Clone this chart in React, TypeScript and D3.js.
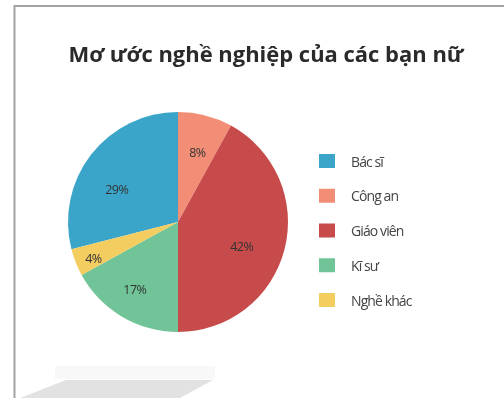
import React from "react";
import * as d3 from "d3";

const title = "Mơ ước nghề nghiệp của các bạn nữ";
const categories = ["Bác sĩ", "Công an", "Giáo viên", "Kĩ sư", "Nghề khác"];
const values = [29, 8, 42, 17, 4];
const colors = ["#3aa5c8", "#f38e76", "#c74b4b", "#70c497", "#f4cd60"];

const W = 504;
const H = 398;
const cx = 178;
const cy = 222;
const R = 110;

// label placement (fraction of radius, angle offset in degrees)
const labelR = [0.63, 0.66, 0.62, 0.73, 0.84];
const labelDA = [-10, 1, 6.5, 2, -2];

export default function App() {
  const total = d3.sum(values);
  const startFrac = values[0] / total;
  const pie = d3
    .pie<number>()
    .sort(null)
    .value((d) => d)
    .startAngle(-startFrac * 2 * Math.PI)
    .endAngle((1 - startFrac) * 2 * Math.PI);
  const arcs = pie(values);
  const arcGen = d3.arc<d3.PieArcDatum<number>>().innerRadius(0).outerRadius(R);
  const legendY = d3.scalePoint<string>().domain(categories).range([161, 300]);

  return (
    <svg
      width={W}
      height={H}
      style={{ position: "absolute", left: 0, top: 0, background: "#fff" }}
    >
      <defs>
        <filter id="soft" x="-10%" y="-10%" width="120%" height="120%">
          <feGaussianBlur stdDeviation="0.45" />
        </filter>
      </defs>
      <rect x={0} y={0} width={W} height={H} fill="#fff" />
      {/* frame */}
      <line x1={14.5} y1={6} x2={W} y2={6} stroke="#a3a3a3" strokeWidth={2} />
      <line x1={14.5} y1={5} x2={14.5} y2={H} stroke="#a3a3a3" strokeWidth={2} />
      {/* bottom gray shape */}
      <rect x={55} y={366} width={160} height={13} fill="#f8f8f8" />
      <path d="M66,380 L213,380 L180,398 L20,398 Z" fill="#e2e2e2" filter="url(#soft)" />
      {/* title */}
      <text
        x={266}
        y={62}
        textAnchor="middle"
        fontFamily="'Open Sans', sans-serif"
        fontWeight={700}
        fontSize={22}
        fill="#2b2b2b"
        textLength={395}
        lengthAdjust="spacingAndGlyphs"
        filter="url(#soft)"
      >
        {title}
      </text>
      {/* pie */}
      <g transform={`translate(${cx},${cy})`}>
        {arcs.map((a, i) => (
          <path key={categories[i]} d={arcGen(a) || ""} fill={colors[i]} />
        ))}
        {arcs.map((a, i) => {
          const ang = (a.startAngle + a.endAngle) / 2 + (labelDA[i] * Math.PI) / 180;
          const r = R * labelR[i];
          const x = Math.sin(ang) * r;
          const y = -Math.cos(ang) * r;
          return (
            <text
              key={"l" + i}
              x={x}
              y={y}
              textAnchor="middle"
              dominantBaseline="central"
              fontFamily="'Open Sans', sans-serif"
              fontSize={12.5}
              letterSpacing={-0.6}
              fill="#333"
              filter="url(#soft)"
            >
              {values[i]}%
            </text>
          );
        })}
      </g>
      {/* legend */}
      {categories.map((c, i) => {
        const y = legendY(c) as number;
        return (
          <g key={"lg" + c}>
            <rect x={319} y={y - 7} width={16} height={14} fill={colors[i]} />
            <text
              x={351}
              y={y}
              dominantBaseline="central"
              fontFamily="'Open Sans', sans-serif"
              fontSize={14}
              letterSpacing={-0.9}
              fill="#444"
              filter="url(#soft)"
            >
              {c}
            </text>
          </g>
        );
      })}
    </svg>
  );
}
